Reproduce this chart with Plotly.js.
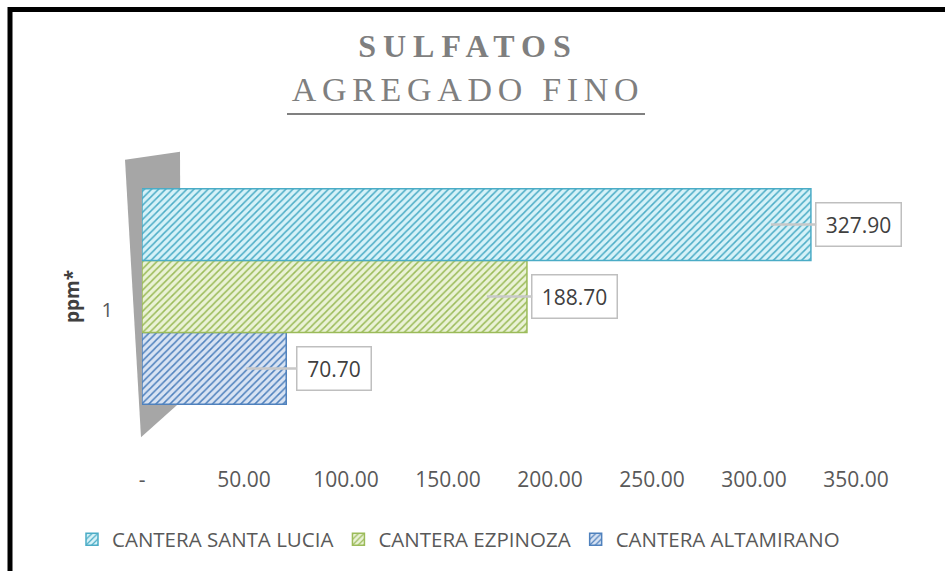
<!DOCTYPE html>
<html><head><meta charset="utf-8">
<script src="https://cdn.plot.ly/plotly-3.0.1.min.js"></script>
<style>html,body{margin:0;padding:0;background:#fff;} #chart{width:945px;height:571px;}</style>
</head><body><div id="chart"></div>
<script>
// ---- data ----
const categories = ['1'];
const seriesNames = ['CANTERA SANTA LUCIA', 'CANTERA EZPINOZA', 'CANTERA ALTAMIRANO'];
const santaLucia = [327.90];
const ezpinoza = [188.70];
const altamirano = [70.70];
const xTickValues = [0, 50, 100, 150, 200, 250, 300, 350];
const xTickLabels = ['-', '50.00', '100.00', '150.00', '200.00', '250.00', '300.00', '350.00'];
const titleLine1 = 'SULFATOS';
const titleLine2 = 'AGREGADO FINO';
const yTitle = 'ppm*';

// ---- styling ----
const seriesValues = [santaLucia, ezpinoza, altamirano];
const lineColors = ['#4bacc6', '#9bbb59', '#4f81bd'];
const fillColors = ['#d6f2f8', '#eaf2d6', '#d8e3f3'];
const W = 945, H = 571, M = {l: 142, r: 38, t: 128, b: 103};
const PW = W - M.l - M.r, PH = H - M.t - M.b;
const px = x => (x - M.l) / PW, py = y => 1 - (y - M.t) / PH;
const bargap = 0.36;
const bw = (1 - bargap) / 3;

const traces = [];
for (let i = seriesValues.length - 1; i >= 0; i--) {
  traces.push({
    type: 'bar', orientation: 'h', name: seriesNames[i],
    x: seriesValues[i], y: categories,
    marker: {
      color: fillColors[i],
      line: {color: lineColors[i], width: 1.5},
      pattern: {shape: '/', fgcolor: lineColors[i], bgcolor: fillColors[i], size: 5, solidity: 0.3, fillmode: 'replace'}
    },
    hoverinfo: 'none'
  });
}

const annotations = [];
seriesValues.forEach((vals, i) => {
  vals.forEach((v, k) => {
    const t = v.toFixed(2);
    annotations.push({
      x: v, y: k + (1 - i) * bw, xref: 'x', yref: 'y',
      text: t, showarrow: true, arrowhead: 0, arrowwidth: 2.5, arrowcolor: '#c8c8c8',
      ax: 88, ay: 0, xshift: -40,
      bgcolor: '#ffffff', bordercolor: '#bfbfbf', borderwidth: 1.5, borderpad: 7,
      width: t.length * 11 + 4,
      font: {family: 'Open Sans', size: 21, color: '#404040'}
    });
  });
});

const pathOf = pts => 'M' + pts.map(p => px(p[0]) + ',' + py(p[1])).join(' L') + ' Z';
const shapes = [
  // side wall
  {type: 'path', xref: 'paper', yref: 'paper', layer: 'below',
   path: pathOf([[125, 160], [180, 152], [181, 404], [141, 440]]),
   fillcolor: '#a6a6a6', line: {width: 0}},
  // title underline
  {type: 'line', xref: 'paper', yref: 'paper', x0: px(287), x1: px(645), y0: py(114), y1: py(114),
   line: {color: '#808080', width: 2}},
  // frame
  {type: 'path', xref: 'paper', yref: 'paper',
   path: 'M' + px(10) + ',' + py(580) + ' L' + px(10) + ',' + py(8.5) + ' L' + px(960) + ',' + py(8.5),
   line: {color: '#000000', width: 5}}
];

const layout = {
  width: W, height: H, margin: M,
  paper_bgcolor: '#ffffff', plot_bgcolor: 'rgba(0,0,0,0)',
  font: {family: 'Open Sans', color: '#595959'},
  title: {
    text: '<span style="font-size:32px;letter-spacing:7px"><b>' + titleLine1 + '</b></span><br>' +
          '<span style="letter-spacing:5.7px">' + titleLine2 + '</span>',
    font: {family: 'Liberation Serif', size: 34, color: '#7f7f7f'},
    xref: 'container', x: 468 / W, xanchor: 'center',
    yref: 'container', y: 1 - 57 / H, yanchor: 'top'
  },
  barmode: 'group', bargap: bargap, bargroupgap: 0,
  xaxis: {
    range: [0, 375], tickvals: xTickValues, ticktext: xTickLabels,
    showgrid: false, zeroline: false, showline: false, ticks: '',
    tickfont: {family: 'Open Sans', size: 21, color: '#595959'},
    fixedrange: true
  },
  yaxis: {
    type: 'category', range: [-0.5, 0.5], showgrid: false, zeroline: false, showline: false, ticks: '',
    tickfont: {family: 'Open Sans', size: 20, color: '#595959'},
    ticklabelstandoff: 28, ticklabelshift: 13,
    title: {text: '<b>' + yTitle + '</b>', font: {family: 'Open Sans', size: 19, color: '#404040'}, standoff: 16},
    automargin: false, fixedrange: true
  },
  showlegend: true,
  legend: {
    orientation: 'h', traceorder: 'reversed',
    x: px(72), xanchor: 'left', y: py(543), yanchor: 'middle',
    font: {family: 'Open Sans', size: 20.5, color: '#595959'},
    itemwidth: 30, bgcolor: 'rgba(0,0,0,0)'
  },
  annotations: annotations,
  shapes: shapes
};

Plotly.newPlot('chart', traces, layout, {displayModeBar: false, staticPlot: true});
</script>
</body></html>
